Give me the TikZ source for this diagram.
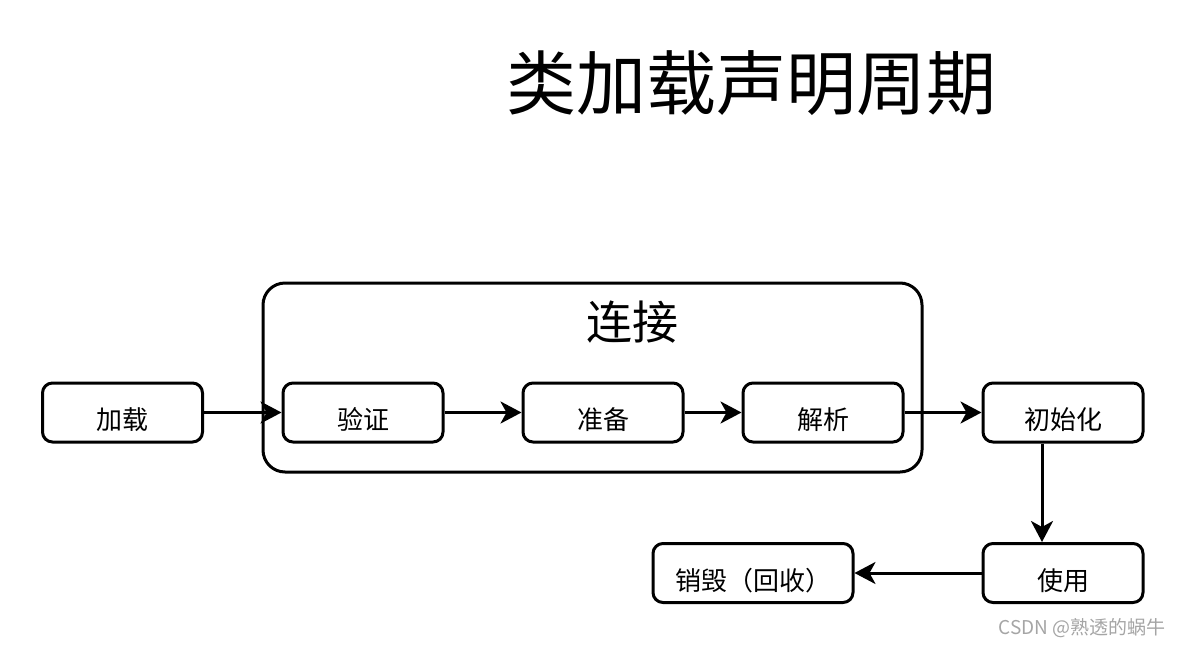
\documentclass[tikz,border=0pt]{standalone}
\usepackage{fontspec}
\setmainfont{Noto Sans CJK SC}
\usetikzlibrary{arrows.meta}
\definecolor{wm}{RGB}{165,165,165}
\tikzset{
  stage/.style={draw=black, line width=3pt, rounded corners=10pt, minimum width=160pt, minimum height=59pt, inner sep=0pt, font=\fontsize{26}{26}\selectfont},
  group/.style={draw=black, line width=3pt, rounded corners=22pt, minimum width=659pt, minimum height=189pt, inner sep=0pt},
  flow/.style={line width=3pt, -{Stealth[length=21pt,width=22pt,inset=6pt]}}
}
\newcommand{\lowtxt}[1]{\raisebox{-17pt}[0pt][0pt]{#1}}
\begin{document}
\begin{tikzpicture}[x=1pt,y=-1pt]
\useasboundingbox (0,0) rectangle (1184,646);
\node[font=\fontsize{70}{70}\selectfont] (title) at (751,83) {类加载声明周期};
\node[group] (link) at (592.5,377.5) {};
\node[font=\fontsize{46}{46}\selectfont] (linklbl) at (632,322) {连接};
\node[stage] (load) at (122.5,412.5) {\lowtxt{加载}};
\node[stage] (verify) at (363,412.5) {\lowtxt{验证}};
\node[stage] (prep) at (603,412.5) {\lowtxt{准备}};
\node[stage] (resolve) at (823,412.5) {\lowtxt{解析}};
\node[stage] (init) at (1063,412.5) {\lowtxt{初始化}};
\node[stage] (use) at (1063,573) {\lowtxt{使用}};
\node[stage, minimum width=200pt] (destroy) at (753,573) {\lowtxt{销毁（回收）}};
\draw[flow] (load) -- (verify);
\draw[flow] (verify) -- (prep);
\draw[flow] (prep) -- (resolve);
\draw[flow] (resolve) -- (init);
\draw[flow] ([xshift=-21pt]init.south) -- ([xshift=-21pt]use.north);
\draw[flow] (use) -- (destroy);
\node[text=wm, font=\fontsize{19}{19}\selectfont, anchor=east] (wmark) at (1169,628) {CSDN @熟透的蜗牛};
\end{tikzpicture}
\end{document}
